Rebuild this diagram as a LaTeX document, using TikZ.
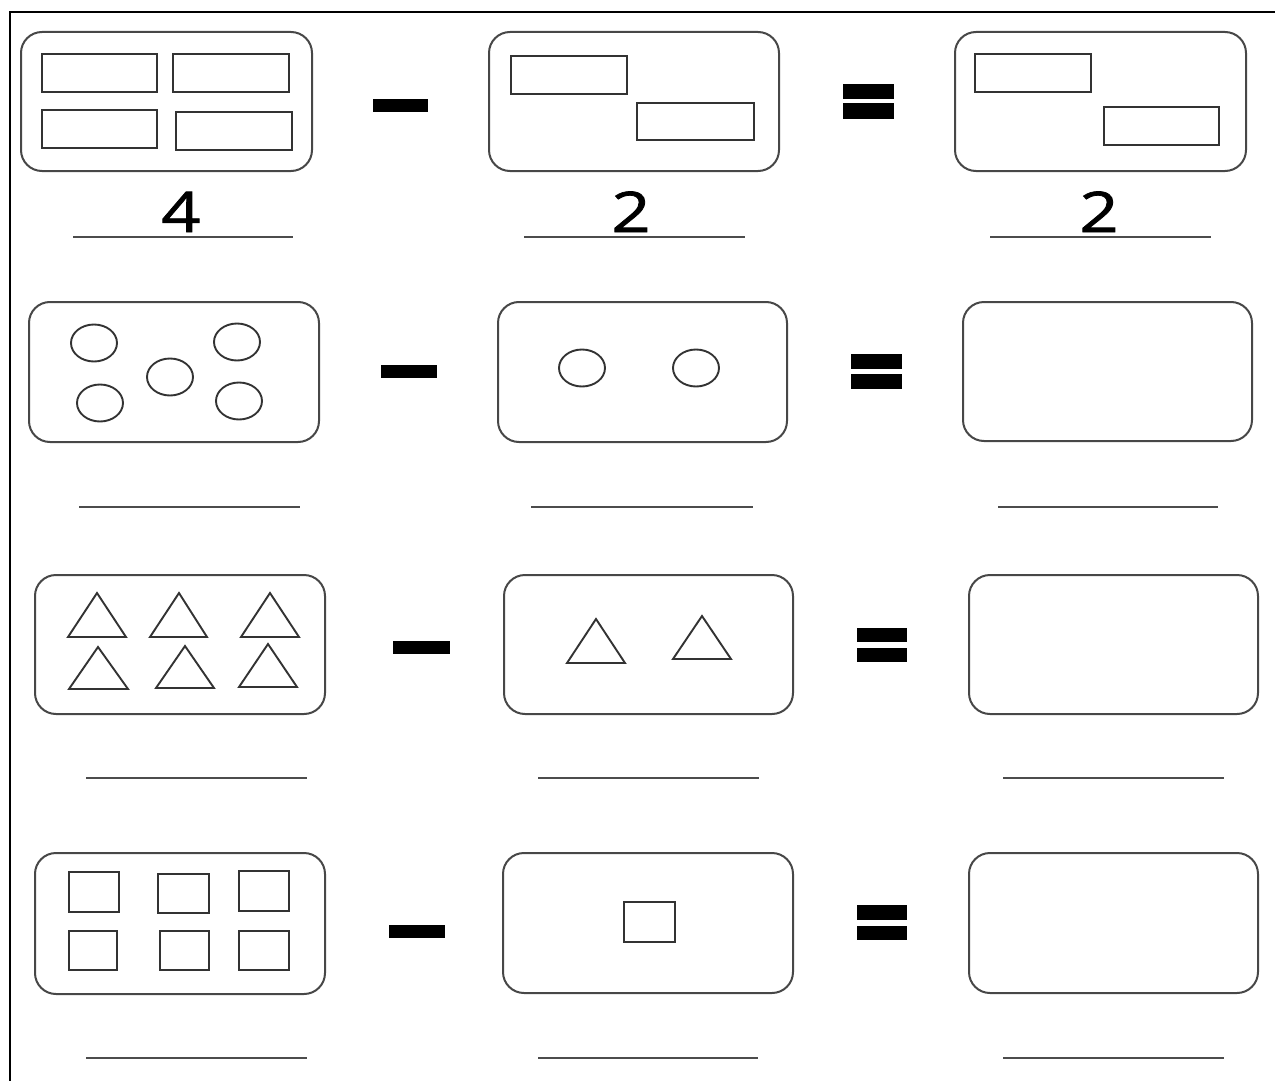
\documentclass[tikz,border=0pt]{standalone}
\usepackage{fontspec}
\usepackage{graphicx}
\setmainfont{Open Sans}
\newfontfamily\digitfont[FakeBold=1.3]{Open Sans}
\begin{document}
\begin{tikzpicture}[x=1pt,y=-1pt,
  card/.style={draw=black!72,line width=2pt,rounded corners=21pt},
  item/.style={draw=black!80,line width=1.9pt},
  blank/.style={draw=black!70,line width=2pt},
  sign/.style={fill=black,draw=none},
  digit/.style={anchor=base,inner sep=0pt,font=\digitfont\fontsize{56}{60}\selectfont}]
\useasboundingbox (0,0) rectangle (1275,1081);
% frame
\draw[line width=1.4pt] (10,1081) -- (10,12) -- (1275,12);
% ---------- row 1
\draw[card] (21,32) rectangle (312,171);
\draw[item] (42,54) rectangle (157,92);
\draw[item] (173,54) rectangle (289,92);
\draw[item] (42,110) rectangle (157,148);
\draw[item] (176,112) rectangle (292,150);
\fill[sign] (373,99) rectangle (428,112);
\draw[card] (489,32) rectangle (779,171);
\draw[item] (511,56) rectangle (627,94);
\draw[item] (637,103) rectangle (754,140);
\fill[sign] (843,84) rectangle (894,99);
\fill[sign] (843,103) rectangle (894,119);
\draw[card] (955,32) rectangle (1246,171);
\draw[item] (975,54) rectangle (1091,92);
\draw[item] (1104,107) rectangle (1219,145);
\node[digit] (n1) at (181,232) {\scalebox{1.22}[1]{4}};
\node[digit] (n2) at (631,232) {\scalebox{1.22}[1]{2}};
\node[digit] (n3) at (1099,232) {\scalebox{1.22}[1]{2}};
\draw[blank] (73,237) -- (293,237);
\draw[blank] (524,237) -- (745,237);
\draw[blank] (990,237) -- (1211,237);
% ---------- row 2
\draw[card] (29,302) rectangle (319,442);
\draw[item] (94,343) ellipse [x radius=23,y radius=18.5];
\draw[item] (237,342) ellipse [x radius=23,y radius=18.5];
\draw[item] (170,377) ellipse [x radius=23,y radius=18.5];
\draw[item] (100,403) ellipse [x radius=23,y radius=18.5];
\draw[item] (239,401) ellipse [x radius=23,y radius=18.5];
\fill[sign] (381,365) rectangle (437,378);
\draw[card] (498,302) rectangle (787,442);
\draw[item] (582,368) ellipse [x radius=23,y radius=18.5];
\draw[item] (696,368) ellipse [x radius=23,y radius=18.5];
\fill[sign] (851,354) rectangle (902,369);
\fill[sign] (851,374) rectangle (902,389);
\draw[card] (963,302) rectangle (1252,441);
\draw[blank] (79,507) -- (300,507);
\draw[blank] (531,507) -- (753,507);
\draw[blank] (998,507) -- (1218,507);
% ---------- row 3
\draw[card] (35,575) rectangle (325,714);
\draw[item] (68,637) -- (97,593) -- (126,637) -- cycle;
\draw[item] (150,637) -- (179,593) -- (207,637) -- cycle;
\draw[item] (241,637) -- (270,593) -- (299,637) -- cycle;
\draw[item] (69,689) -- (98,647) -- (128,689) -- cycle;
\draw[item] (156,688) -- (185,646) -- (214,688) -- cycle;
\draw[item] (239,687) -- (268,644) -- (297,687) -- cycle;
\fill[sign] (393,641) rectangle (450,654);
\draw[card] (504,575) rectangle (793,714);
\draw[item] (567,663) -- (596,619) -- (625,663) -- cycle;
\draw[item] (673,659) -- (702,616) -- (731,659) -- cycle;
\fill[sign] (857,628) rectangle (907,642);
\fill[sign] (857,648) rectangle (907,662);
\draw[card] (969,575) rectangle (1258,714);
\draw[blank] (86,778) -- (307,778);
\draw[blank] (538,778) -- (759,778);
\draw[blank] (1003,778) -- (1224,778);
% ---------- row 4
\draw[card] (35,853) rectangle (325,994);
\draw[item] (69,872) rectangle (119,912);
\draw[item] (158,874) rectangle (209,913);
\draw[item] (239,871) rectangle (289,911);
\draw[item] (69,931) rectangle (117,970);
\draw[item] (160,931) rectangle (209,970);
\draw[item] (239,931) rectangle (289,970);
\fill[sign] (389,925) rectangle (445,938);
\draw[card] (503,853) rectangle (793,993);
\draw[item] (624,902) rectangle (675,942);
\fill[sign] (857,905) rectangle (907,920);
\fill[sign] (857,926) rectangle (907,940);
\draw[card] (969,853) rectangle (1258,993);
\draw[blank] (86,1058) -- (307,1058);
\draw[blank] (538,1058) -- (758,1058);
\draw[blank] (1003,1058) -- (1224,1058);
\end{tikzpicture}
\end{document}
